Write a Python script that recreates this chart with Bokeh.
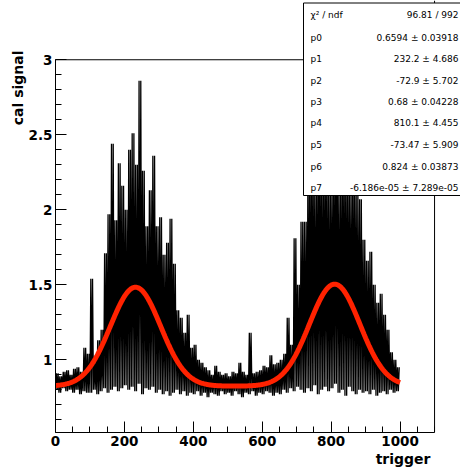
import numpy as np
from bokeh.plotting import figure
from bokeh.models import (Label, BoxAnnotation, Range1d, FixedTicker, PrintfTickFormatter,
                          Span, Title)
from bokeh.embed import file_html
from bokeh.resources import INLINE

# Calorimeter signal per trigger, summarised in 10-trigger bins (low / high swing)
trigger_bins = list(range(0, 1000, 10))
signal_high = [
    0.91, 0.89, 0.92, 0.93, 0.90, 0.94, 0.95, 0.92, 1.08, 1.04,
    1.54, 1.02, 1.13, 1.20, 1.71, 1.97, 2.44, 1.93, 2.31, 2.16,
    2.00, 2.40, 2.51, 2.30, 2.86, 2.26, 1.89, 2.13, 2.36, 1.89,
    1.95, 1.70, 1.78, 1.94, 1.64, 1.33, 1.28, 1.18, 1.30, 1.08,
    1.10, 1.00, 0.98, 0.95, 0.93, 0.90, 0.96, 0.92, 0.90, 0.91,
    0.89, 0.92, 0.91, 0.98, 0.92, 0.90, 1.18, 0.91, 0.92, 0.93,
    0.96, 0.95, 1.03, 0.97, 0.98, 1.00, 1.04, 1.28, 1.10, 1.81,
    1.50, 1.92, 1.92, 2.30, 2.40, 2.20, 2.50, 2.30, 2.40, 2.20,
    2.30, 2.50, 2.20, 2.40, 2.30, 2.20, 2.30, 2.15, 2.07, 1.80,
    1.66, 1.72, 1.50, 1.38, 1.44, 1.30, 1.20, 1.05, 1.00, 0.95,
]
signal_low = [
    0.80, 0.78, 0.81, 0.79, 0.80, 0.78, 0.80, 0.77, 0.79, 0.78,
    0.78, 0.80, 0.77, 0.79, 0.81, 0.78, 0.80, 0.82, 0.79, 0.81,
    0.83, 0.80, 0.82, 0.79, 0.84, 0.77, 0.81, 0.80, 0.82, 0.78,
    0.80, 0.77, 0.79, 0.76, 0.78, 0.80, 0.77, 0.79, 0.76, 0.78,
    0.77, 0.79, 0.76, 0.78, 0.75, 0.78, 0.77, 0.76, 0.79, 0.77,
    0.78, 0.76, 0.79, 0.77, 0.75, 0.78, 0.77, 0.79, 0.76, 0.78,
    0.77, 0.79, 0.78, 0.76, 0.78, 0.77, 0.80, 0.78, 0.81, 0.79,
    0.82, 0.80, 0.78, 0.81, 0.79, 0.83, 0.77, 0.80, 0.82, 0.79,
    0.81, 0.84, 0.78, 0.80, 0.76, 0.82, 0.79, 0.77, 0.80, 0.78,
    0.79, 0.77, 0.80, 0.76, 0.78, 0.79, 0.77, 0.80, 0.78, 0.79,
]

# Fit: gaus(p0,p1,p2) + gaus(p3,p4,p5) + pol1(p6,p7)
chi2_ndf = "96.81 / 992"
par_names = ["p0", "p1", "p2", "p3", "p4", "p5", "p6", "p7"]
par_values = [0.6594, 232.2, -72.9, 0.68, 810.1, -73.47, 0.824, -6.186e-05]
par_errors = [0.03918, 4.686, 5.702, 0.04228, 4.455, 5.909, 0.03873, 7.289e-05]

x_ticks = [0, 200, 400, 600, 800, 1000]
y_ticks = [0.5, 1, 1.5, 2, 2.5, 3]
X_MAX, Y_MAX = 1100, 3.0          # edges of the drawn frame

# trace: swing twice between the low and the high value inside every bin
trace_x, trace_y = [], []
for t, lo, hi in zip(trigger_bins, signal_low, signal_high):
    trace_x += [t, t + 2.5, t + 5, t + 7.5]
    trace_y += [lo, hi, lo, hi]

p0, p1, p2, p3, p4, p5, p6, p7 = par_values
fx = np.linspace(0, 1000, 501)
fy = (p0 * np.exp(-0.5 * ((fx - p1) / p2) ** 2)
      + p3 * np.exp(-0.5 * ((fx - p4) / p5) ** 2)
      + p6)

# the data area reaches the canvas top/right so the stats box can sit there
p = figure(width=460, height=471, x_range=Range1d(0, 1175.3), y_range=Range1d(0.515, 3.395),
           output_backend="svg", toolbar_location=None,
           min_border_left=55, min_border_right=0, min_border_top=0, min_border_bottom=39,
           background_fill_color="white", border_fill_color="white")
p.grid.visible = False
p.outline_line_color = None

p.line(trace_x, trace_y, line_color="black", line_width=1.3)
p.line(fx, fy, line_color="#ff2200", line_width=5)

p.xaxis.ticker = FixedTicker(ticks=x_ticks, minor_ticks=list(range(0, 1101, 50)))
p.yaxis.ticker = FixedTicker(ticks=y_ticks,
                             minor_ticks=[round(0.5 + 0.1 * i, 2) for i in range(26)])
p.yaxis.formatter = PrintfTickFormatter(format="%g")
p.xaxis.bounds = (0, X_MAX)
p.yaxis.bounds = (0.5, Y_MAX)
for ax in (p.xaxis[0], p.yaxis[0]):
    ax.axis_line_color = "black"
    ax.major_tick_in = 11
    ax.major_tick_out = 0
    ax.minor_tick_in = 6
    ax.minor_tick_out = 0
    ax.major_tick_line_color = "black"
    ax.minor_tick_line_color = "black"
    ax.major_label_text_font = "DejaVu Sans"
    ax.major_label_text_font_style = "bold"
    ax.major_label_text_font_size = "13.5px"
    ax.major_label_text_color = "black"
    ax.major_label_standoff = 3

# top and right edges of the frame
p.add_layout(Span(location=Y_MAX, dimension="width", line_color="black", line_width=1))
p.add_layout(Span(location=X_MAX, dimension="height", line_color="black", line_width=1))

# axis titles
p.add_layout(Title(text="trigger", align="right", offset=30, standoff=0,
                   text_color="black", text_font="DejaVu Sans", text_font_style="bold",
                   text_font_size="14px"),
             "below")
p.add_layout(Title(text="cal signal", align="right", offset=50, standoff=0,
                   text_color="black", text_font="DejaVu Sans", text_font_style="bold",
                   text_font_size="14px"),
             "left")

# fit statistics box
p.add_layout(BoxAnnotation(left=248, right=430, top=429.5, bottom=237,
                           left_units="screen", right_units="screen",
                           top_units="screen", bottom_units="screen",
                           fill_color="white", fill_alpha=1.0,
                           line_color="black", line_width=1, line_alpha=1.0))

rows = [("χ² / ndf", chi2_ndf)] + [
    (n, f"{v:.4g} ± {e:.4g}") for n, v, e in zip(par_names, par_values, par_errors)]
row_y = [14, 37, 58, 80, 101, 122, 144, 166, 187]
for (name, txt), cy in zip(rows, row_y):
    p.add_layout(Label(x=255, y=432 - cy, x_units="screen", y_units="screen", text=name,
                       text_color="black", text_font="DejaVu Sans", text_font_size="9px",
                       text_align="left", text_baseline="middle"))
    p.add_layout(Label(x=403, y=432 - cy, x_units="screen", y_units="screen", text=txt,
                       text_color="black", text_font="DejaVu Sans", text_font_size="9px",
                       text_align="right", text_baseline="middle"))

open("out.html", "w").write(file_html(p, INLINE))
